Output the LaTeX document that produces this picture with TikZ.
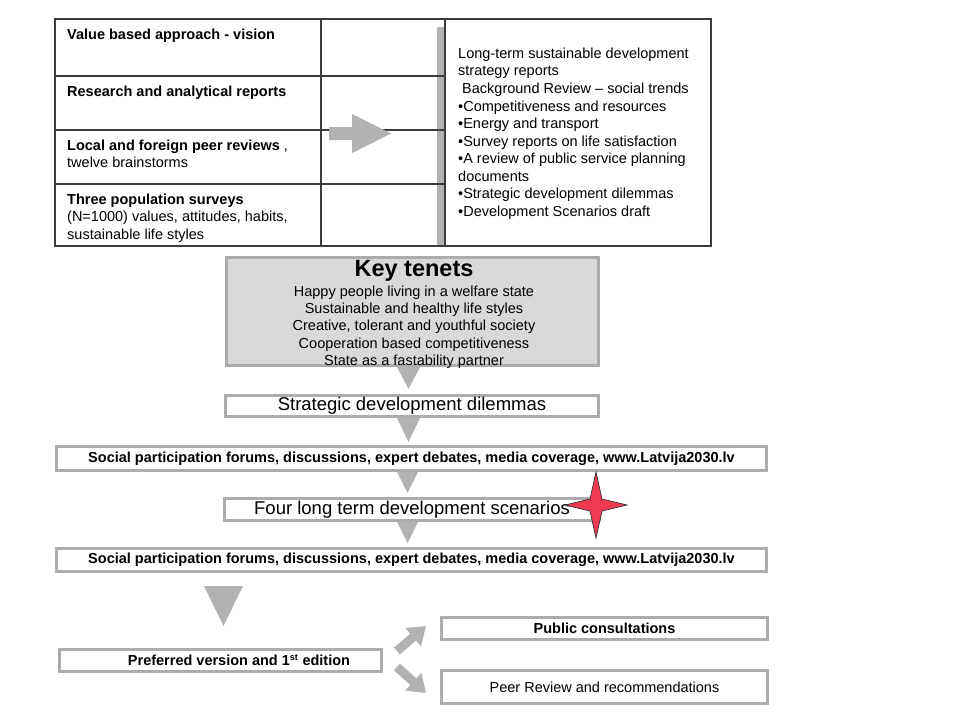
\documentclass[tikz,border=0pt]{standalone}
\usepackage{fontspec}
\setmainfont{Liberation Sans}
\usetikzlibrary{arrows.meta}
\definecolor{bgray}{RGB}{178,178,178}
\definecolor{bordgray}{RGB}{172,172,172}
\definecolor{tline}{RGB}{60,60,60}
\definecolor{ktfill}{RGB}{217,217,217}
\definecolor{starred}{RGB}{240,58,82}
\begin{document}
\begin{tikzpicture}[x=1pt,y=-1pt,
  txt/.style={inner sep=0pt, font=\fontsize{14.5}{17.5}\selectfont},
  btxt/.style={inner sep=0pt, font=\fontsize{14.5}{17.5}\selectfont\bfseries},
  box/.style={draw=bordgray, line width=3pt, fill=white, inner sep=0pt, font=\fontsize{14.5}{17.5}\selectfont},
  tri/.style={fill=bgray, draw=none},
  blockarrow/.style={draw=bgray, line width=9pt, -{Triangle[length=17pt,width=23pt]}}
]
\useasboundingbox (0,0) rectangle (960,720);
% ---------- table ----------
\fill[bgray] (437,27) rectangle (445,245);
\draw[tline, line width=1.4pt] (55,19) rectangle (711,246);
\draw[tline, line width=1.4pt] (321,19) -- (321,246) (445,19) -- (445,246);
\draw[tline, line width=1.4pt] (55,76) -- (445,76) (55,130) -- (445,130) (55,184) -- (445,184);
% right arrow
\fill[bgray] (329,127) -- (352,127) -- (352,114) -- (391,133.5) -- (352,153) -- (352,140) -- (329,140) -- cycle;
% left column text
\node[btxt, anchor=base west] (l1) at (67,39) {Value based approach - vision};
\node[btxt, anchor=base west] (l2) at (67,96) {Research and analytical reports};
\node[txt, anchor=base west] (l3) at (67,150) {\textbf{Local and foreign peer reviews} ,};
\node[txt, anchor=base west] (l4) at (67,167.5) {twelve brainstorms};
\node[btxt, anchor=base west] (l5) at (67,204) {Three population surveys};
\node[txt, anchor=base west] (l6) at (67,221.5) {(N=1000) values, attitudes, habits,};
\node[txt, anchor=base west] (l7) at (67,239) {sustainable life styles};
% right column text
\node[txt, anchor=base west] (r1) at (458,58.3) {Long-term sustainable development};
\node[txt, anchor=base west] (r2) at (458,75.9) {strategy reports};
\node[txt, anchor=base west] (r3) at (462,93.4) {Background Review – social trends};
\node[txt, anchor=base west] (r4) at (458,111) {•Competitiveness and resources};
\node[txt, anchor=base west] (r5) at (458,128.5) {•Energy and transport};
\node[txt, anchor=base west] (r6) at (458,146) {•Survey reports on life satisfaction};
\node[txt, anchor=base west] (r7) at (458,163.6) {•A review of public service planning};
\node[txt, anchor=base west] (r8) at (458,181.2) {documents};
\node[txt, anchor=base west] (r9) at (458,198.7) {•Strategic development dilemmas};
\node[txt, anchor=base west] (r10) at (458,216.3) {•Development Scenarios draft};
% ---------- key tenets ----------
\node[box, fill=ktfill, minimum width=372pt, minimum height=108pt] (kt) at (412.5,311.5) {};
\node[inner sep=0pt, font=\fontsize{23.5}{26}\selectfont\bfseries, anchor=base] (ktt) at (414,276.5) {Key tenets};
\node[txt, anchor=base] (k1) at (414,296.7) {Happy people living in a welfare state};
\node[txt, anchor=base] (k2) at (414,313.8) {Sustainable and healthy life styles};
\node[txt, anchor=base] (k3) at (414,330.9) {Creative, tolerant and youthful society};
\node[txt, anchor=base] (k4) at (414,348) {Cooperation based competitiveness};
\node[txt, anchor=base] (k5) at (414,365.1) {State as a fastability partner};
\fill[tri] (397,367) -- (420,367) -- (408.5,389) -- cycle;
% ---------- flow boxes ----------
\node[box, minimum width=373pt, minimum height=21pt, font=\fontsize{18.5}{22}\selectfont] (sdd) at (412,406) {Strategic development dilemmas};
\fill[tri] (397,418) -- (420,418) -- (408.5,442) -- cycle;
\node[box, minimum width=710pt, minimum height=24pt, font=\fontsize{14.5}{17.5}\selectfont\bfseries] (sp1) at (411.5,458.5) {Social participation forums, discussions, expert debates, media coverage, www.Latvija2030.lv};
\fill[tri] (397,472) -- (418,472) -- (407.5,493) -- cycle;
\node[box, minimum width=375pt, minimum height=22pt, font=\fontsize{18.5}{22}\selectfont] (four) at (412,509.5) {Four long term development scenarios};
\fill[tri] (397,522) -- (418,522) -- (407.5,543) -- cycle;
\node[box, minimum width=710pt, minimum height=23pt, font=\fontsize{14.5}{17.5}\selectfont\bfseries] (sp2) at (411.5,560) {Social participation forums, discussions, expert debates, media coverage, www.Latvija2030.lv};
% star
\filldraw[fill=starred, draw=black!80, line width=0.7pt] (596,472) -- (602,499) -- (627,505) -- (602,511) -- (596,538) -- (590,511) -- (565,505) -- (590,499) -- cycle;
% big triangle
\fill[tri] (204,586) -- (243,586) -- (223.5,626) -- cycle;
% bottom boxes
\node[box, minimum width=322pt, minimum height=22pt] (pref) at (220.5,660.5) {};
\node[btxt] (preft) at (239,660.5) {Preferred version and 1\textsuperscript{\fontsize{9}{10}\selectfont st} edition};
\node[box, minimum width=326pt, minimum height=22pt, font=\fontsize{14.5}{17.5}\selectfont\bfseries] (pub) at (604.5,628.5) {Public consultations};
\node[box, minimum width=326pt, minimum height=33pt] (peer) at (604.5,687) {Peer Review and recommendations};
\coordinate (a1s) at (397,651);
\coordinate (a1e) at (426,626);
\coordinate (a2s) at (397,667);
\coordinate (a2e) at (426,693);
\draw[blockarrow] (a1s) -- (a1e);
\draw[blockarrow] (a2s) -- (a2e);
\end{tikzpicture}
\end{document}
